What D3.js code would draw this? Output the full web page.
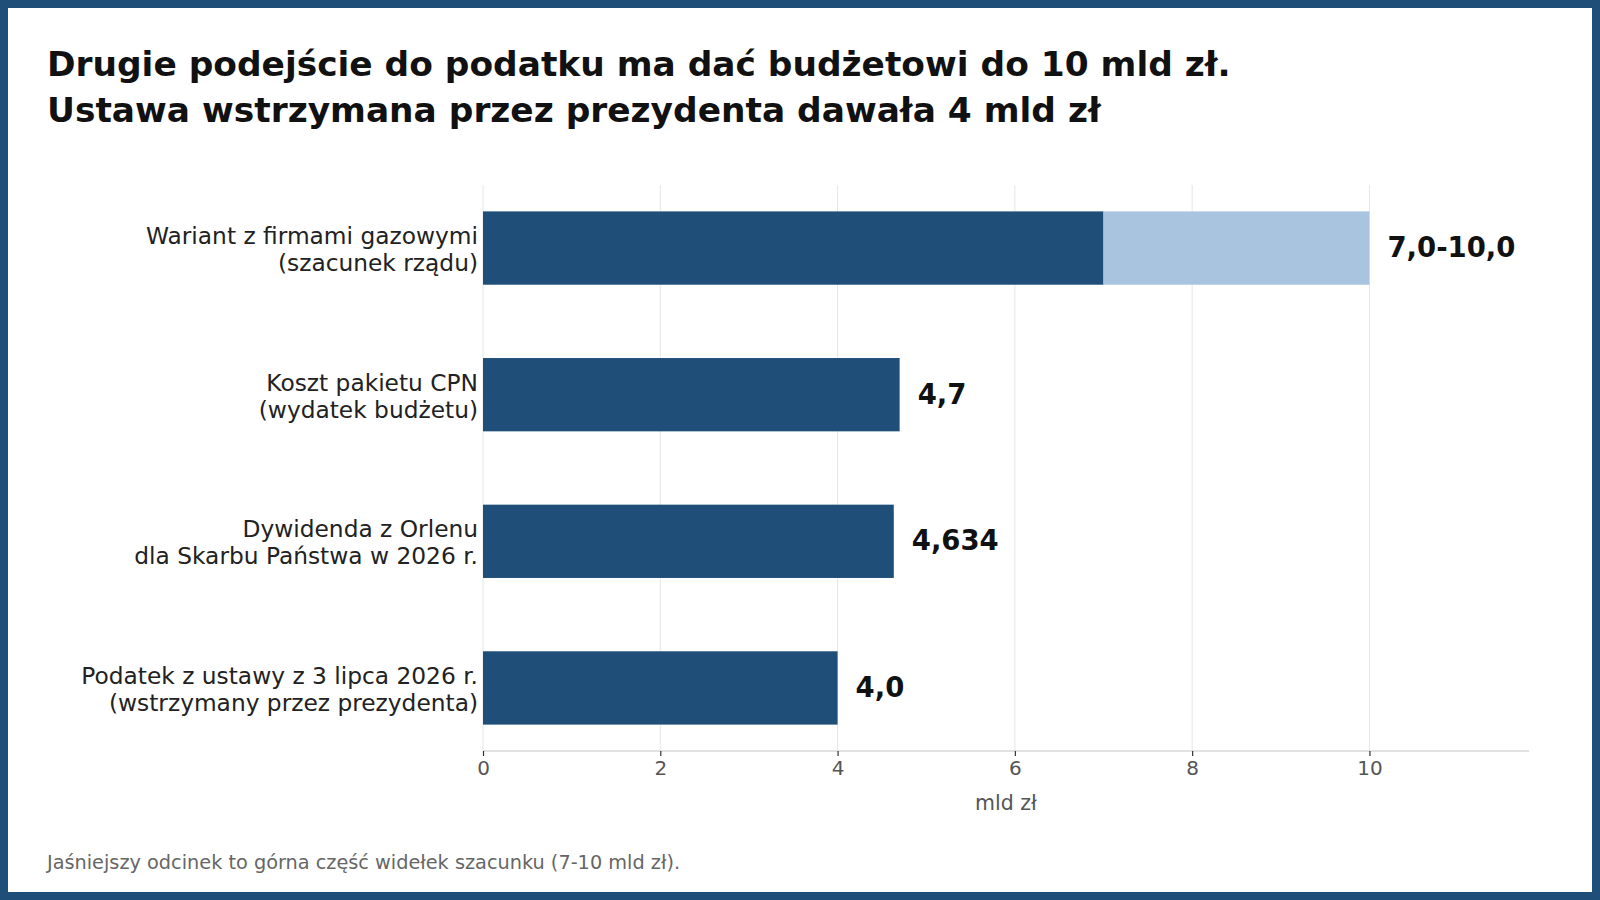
<!DOCTYPE html>
<html>
<head>
<meta charset="utf-8">
<script src="https://cdn.jsdelivr.net/npm/d3@7"></script>
<style>
  body { margin: 0; background: #fff; }
  text { font-family: "DejaVu Sans", sans-serif; }
</style>
</head>
<body>
<div id="chart"></div>
<script>
// Chart data
var categories = [
  ['Wariant z firmami gazowymi', '(szacunek rządu)'],
  ['Koszt pakietu CPN', '(wydatek budżetu)'],
  ['Dywidenda z Orlenu', 'dla Skarbu Państwa w 2026 r.'],
  ['Podatek z ustawy z 3 lipca 2026 r.', '(wstrzymany przez prezydenta)']
];
var baseValues = [7.0, 4.7, 4.634, 4.0];
var upperValues = [10.0, null, null, null];
var valueLabels = ['7,0-10,0', '4,7', '4,634', '4,0'];
var xTicks = [0, 2, 4, 6, 8, 10];

var titleLines = [
  'Drugie podejście do podatku ma dać budżetowi do 10 mld zł.',
  'Ustawa wstrzymana przez prezydenta dawała 4 mld zł'
];
var axisTitle = 'mld zł';
var footnote = 'Jaśniejszy odcinek to górna część widełek szacunku (7-10 mld zł).';

var dark = '#1f4e79';
var light = '#a9c4de';
var width = 1600, height = 900;

var svg = d3.select('#chart').append('svg')
  .attr('width', width)
  .attr('height', height);

// Frame
svg.append('rect').attr('width', width).attr('height', height).attr('fill', dark);
svg.append('rect').attr('x', 8).attr('y', 8)
  .attr('width', width - 16).attr('height', height - 16).attr('fill', '#fff');

// Title
svg.selectAll('.title').data(titleLines).enter().append('text')
  .attr('class', 'title')
  .attr('x', 47)
  .attr('y', function(d, i) { return 76 + i * 46; })
  .style('font-size', '34.4px')
  .style('font-weight', 'bold')
  .attr('fill', '#111')
  .text(function(d) { return d; });

// Scales
var x = d3.scaleLinear().domain([0, 11.8]).range([483, 1529]);
var y = d3.scaleBand().domain(d3.range(categories.length))
  .range([185, 751]).paddingInner(0.5).paddingOuter(0.18);

// Gridlines
svg.append('g').selectAll('line').data(xTicks).enter().append('line')
  .attr('x1', function(d) { return x(d); })
  .attr('x2', function(d) { return x(d); })
  .attr('y1', 185).attr('y2', 751)
  .attr('stroke', '#e6e6e6').attr('stroke-width', 1);

// Bars: dark part then the lighter upper range
svg.append('g').selectAll('rect').data(baseValues).enter().append('rect')
  .attr('x', x(0))
  .attr('y', function(d, i) { return y(i); })
  .attr('width', function(d) { return x(d) - x(0); })
  .attr('height', y.bandwidth())
  .attr('fill', dark);

svg.append('g').selectAll('rect').data(upperValues).enter()
  .filter(function(d) { return d !== null; })
  .append('rect')
  .attr('x', function(d, i) { return x(baseValues[i]); })
  .attr('y', function(d, i) { return y(i); })
  .attr('width', function(d, i) { return x(d) - x(baseValues[i]); })
  .attr('height', y.bandwidth())
  .attr('fill', light);

// Value labels
svg.append('g').selectAll('text').data(valueLabels).enter().append('text')
  .attr('x', function(d, i) { return x(upperValues[i] !== null ? upperValues[i] : baseValues[i]) + 18; })
  .attr('y', function(d, i) { return y(i) + y.bandwidth() / 2 + 9; })
  .style('font-size', '27.5px')
  .style('font-weight', 'bold')
  .attr('fill', '#111')
  .text(function(d) { return d; });

// Category labels
var cat = svg.append('g').selectAll('text').data(categories).enter().append('text')
  .attr('text-anchor', 'end')
  .style('font-size', '23.3px')
  .attr('fill', '#222');
cat.selectAll('tspan').data(function(d, i) { return d.map(function(t) { return [t, i]; }); })
  .enter().append('tspan')
  .attr('x', 478)
  .attr('y', function(d, j) { return y(d[1]) + y.bandwidth() / 2 - 4 + j * 27; })
  .text(function(d) { return d[0]; });

// X axis
var axis = svg.append('g')
  .attr('transform', 'translate(0,751)')
  .call(d3.axisBottom(x).tickValues(xTicks).tickSize(5).tickPadding(5)
    .tickFormat(function(d) { return d; }));
axis.select('.domain').remove();
axis.insert('line', ':first-child')
  .attr('x1', x(0)).attr('x2', x(11.8))
  .attr('stroke', '#d9d9d9').attr('stroke-width', 1.5);
axis.selectAll('.tick line').attr('stroke', '#333').attr('stroke-width', 1.2);
axis.selectAll('.tick text')
  .style('font-size', '20px')
  .style('font-family', '"DejaVu Sans", sans-serif')
  .attr('fill', '#555');

svg.append('text')
  .attr('x', (x(0) + x(11.8)) / 2)
  .attr('y', 810)
  .attr('text-anchor', 'middle')
  .style('font-size', '20.5px')
  .attr('fill', '#555')
  .text(axisTitle);

// Footnote
svg.append('text')
  .attr('x', 47)
  .attr('y', 869)
  .style('font-size', '19.3px')
  .attr('fill', '#666')
  .text(footnote);
</script>
</body>
</html>
